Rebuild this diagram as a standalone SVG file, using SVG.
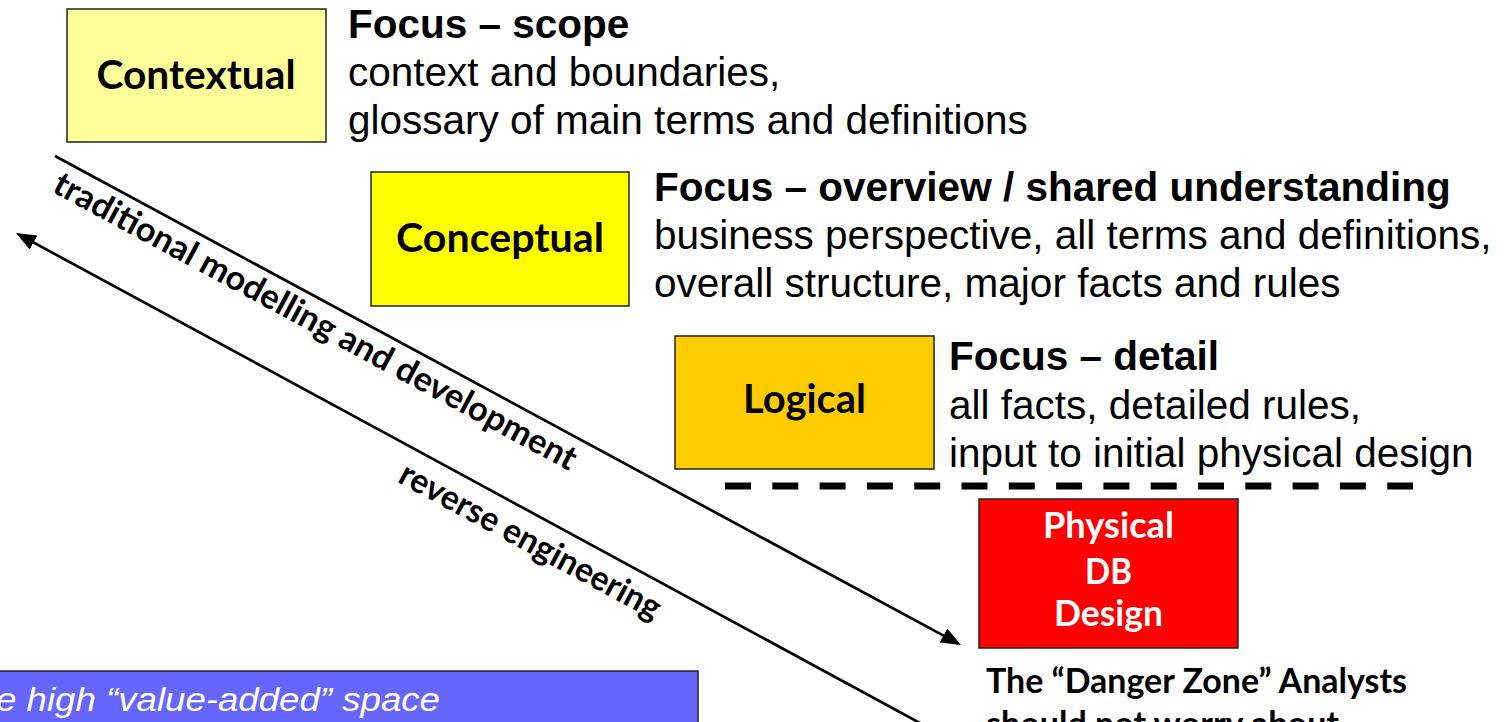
<svg xmlns="http://www.w3.org/2000/svg" width="1506" height="722" viewBox="0 0 1506 722">
<style>
.box{stroke:#222;stroke-width:1.5}
.lbl{font-family:Lato,"Open Sans",sans-serif;font-weight:bold;font-size:41px;fill:#000;text-anchor:middle}
.plbl{font-family:Lato,"Open Sans",sans-serif;font-weight:bold;font-size:36px;fill:#fff;text-anchor:middle}
.desc{font-family:"Liberation Sans",Arial,sans-serif;font-size:40.5px;fill:#000}
.desc .b{font-weight:bold}
.rot{font-family:Lato,"Open Sans",sans-serif;font-weight:bold;font-size:34px;fill:#000}
.conn{stroke:#000;stroke-width:2.7;fill:none}
</style>
<defs>
<marker id="ah" markerUnits="userSpaceOnUse" markerWidth="22" markerHeight="16" refX="17" refY="8" orient="auto">
<path d="M0,0 L20,8 L0,16 z" fill="#000"/>
</marker>
</defs>
<rect width="1506" height="722" fill="#fff"/>

<g id="contextual">
<rect class="box" x="67" y="9" width="259" height="133" fill="#FFFF99"/>
<text class="lbl" x="196" y="89" textLength="199" lengthAdjust="spacingAndGlyphs">Contextual</text>
<text class="desc" x="348" y="38"><tspan class="b">Focus – scope</tspan><tspan x="348" y="86">context and boundaries,</tspan><tspan x="348" y="134">glossary of main terms and definitions</tspan></text>
</g>

<g id="conceptual">
<rect class="box" x="371" y="172" width="258" height="134" fill="#FFFF00"/>
<text class="lbl" x="500" y="252" textLength="208" lengthAdjust="spacingAndGlyphs">Conceptual</text>
<text class="desc" x="654" y="201"><tspan class="b">Focus – overview / shared understanding</tspan><tspan x="654" y="249">business perspective, all terms and definitions,</tspan><tspan x="654" y="297">overall structure, major facts and rules</tspan></text>
</g>

<g id="logical">
<rect class="box" x="675" y="336" width="259" height="133" fill="#FFCC00"/>
<text class="lbl" x="804.5" y="413" textLength="123" lengthAdjust="spacingAndGlyphs">Logical</text>
<text class="desc" x="949" y="370"><tspan class="b">Focus – detail</tspan><tspan x="949" y="418.5">all facts, detailed rules,</tspan><tspan x="949" y="467">input to initial physical design</tspan></text>
</g>

<g id="divider">
<line x1="725" y1="486" x2="1413" y2="486" stroke="#000" stroke-width="7" stroke-dasharray="26 21.3"/>
</g>

<g id="physical">
<rect class="box" x="979" y="499" width="259" height="149" fill="#FF0000"/>
<text class="plbl" x="1108.5" y="538" textLength="131" lengthAdjust="spacingAndGlyphs">Physical</text>
<text class="plbl" x="1108.5" y="584" textLength="47" lengthAdjust="spacingAndGlyphs">DB</text>
<text class="plbl" x="1108.5" y="626" textLength="109" lengthAdjust="spacingAndGlyphs">Design</text>
</g>

<g id="danger-zone">
<text class="rot" x="986" y="693" textLength="421" lengthAdjust="spacingAndGlyphs">The “Danger Zone” Analysts</text>
<text class="rot" x="986" y="736" textLength="353" lengthAdjust="spacingAndGlyphs">should not worry about</text>
</g>

<g id="value-added">
<rect x="-4" y="671" width="702" height="70" fill="#6666FF" stroke="#222" stroke-width="1.5"/>
<text x="-4" y="711" font-family="'Liberation Sans',Arial,sans-serif" font-style="italic" font-size="33" fill="#fff" textLength="444" lengthAdjust="spacingAndGlyphs">e high “value-added” space</text>
</g>

<g id="connectors">
<line class="conn" x1="55" y1="156" x2="958.4" y2="643.6" marker-end="url(#ah)"/>
<line class="conn" x1="955" y1="742" x2="18.6" y2="234.4" marker-end="url(#ah)"/>
<g transform="translate(55,156) rotate(28.36)">
<text class="rot" x="13" y="33" textLength="589" lengthAdjust="spacingAndGlyphs">traditional modelling and development</text>
</g>
<g transform="translate(16,233) rotate(28.36)">
<text class="rot" x="453" y="38" textLength="292" lengthAdjust="spacingAndGlyphs">reverse engineering</text>
</g>
</g>
</svg>
